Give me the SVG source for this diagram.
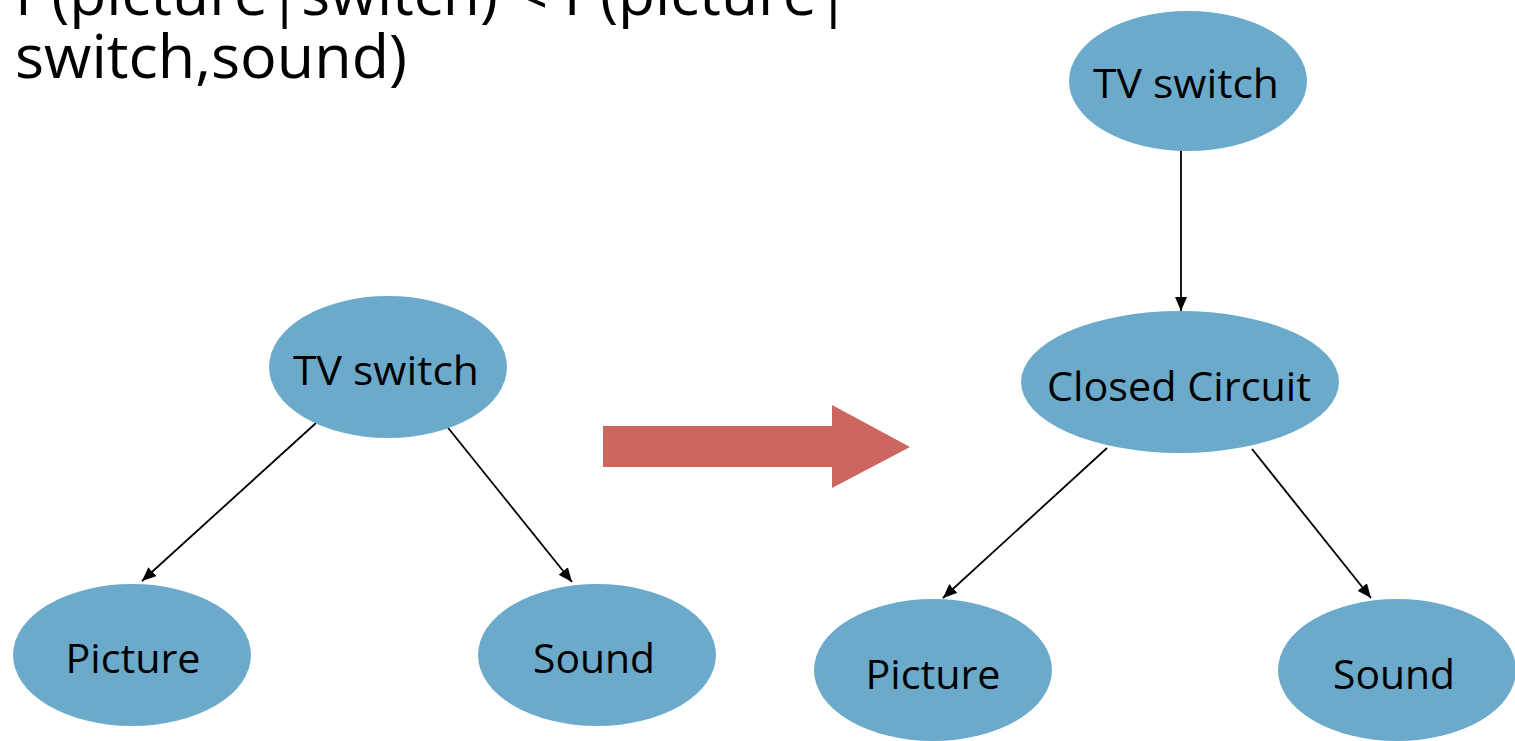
<svg xmlns="http://www.w3.org/2000/svg" width="1515" height="741" viewBox="0 0 1515 741">
  <defs>
    <marker id="arrow" viewBox="0 0 14 12" refX="14" refY="6" markerWidth="14" markerHeight="12" markerUnits="userSpaceOnUse" orient="auto">
      <path d="M0,0 L14,6 L0,12 z" fill="#000"/>
    </marker>
  </defs>
  <style>
    .node ellipse { fill: #6BAACA; }
    .node text { font-family: "Open Sans", "Liberation Sans", sans-serif; font-size: 40px; fill: #000; text-anchor: middle; }
    .edge { stroke: #000; stroke-width: 1.8; fill: none; marker-end: url(#arrow); }
    .title { font-family: "Open Sans", "Liberation Sans", sans-serif; font-size: 60px; fill: #000; }
  </style>
  <rect width="1515" height="741" fill="#fff"/>

  <!-- heading -->
  <text class="title" x="15" y="15" textLength="835" lengthAdjust="spacingAndGlyphs">P(picture|switch) &lt; P(picture|</text>
  <text class="title" x="15" y="78" textLength="392" lengthAdjust="spacingAndGlyphs">switch,sound)</text>

  <!-- connectors -->
  <g id="connectors">
    <line class="edge" x1="316" y1="423" x2="142" y2="581"/>
    <line class="edge" x1="445" y1="424" x2="572" y2="582"/>
    <line class="edge" x1="1181" y1="150" x2="1181" y2="311"/>
    <line class="edge" x1="1107" y1="448" x2="943" y2="598"/>
    <line class="edge" x1="1252" y1="449" x2="1371" y2="598"/>
  </g>

  <!-- block arrow -->
  <path id="transform-arrow" d="M603,426 L832,426 L832,405 L910,447 L832,488 L832,467 L603,467 Z" fill="#CD665F"/>

  <!-- left graph -->
  <g id="l-switch" class="node">
    <ellipse cx="388" cy="367" rx="119" ry="71"/>
    <text x="386" y="385" textLength="186" lengthAdjust="spacingAndGlyphs">TV switch</text>
  </g>
  <g id="l-picture" class="node">
    <ellipse cx="132" cy="655" rx="119" ry="71"/>
    <text x="133" y="673" textLength="135" lengthAdjust="spacingAndGlyphs">Picture</text>
  </g>
  <g id="l-sound" class="node">
    <ellipse cx="597" cy="655" rx="119" ry="71"/>
    <text x="594" y="673" textLength="122" lengthAdjust="spacingAndGlyphs">Sound</text>
  </g>

  <!-- right graph -->
  <g id="r-switch" class="node">
    <ellipse cx="1188" cy="81" rx="119" ry="70"/>
    <text x="1186" y="98" textLength="186" lengthAdjust="spacingAndGlyphs">TV switch</text>
  </g>
  <g id="r-circuit" class="node">
    <ellipse cx="1180" cy="382" rx="159" ry="71"/>
    <text x="1179" y="401" textLength="264" lengthAdjust="spacingAndGlyphs">Closed Circuit</text>
  </g>
  <g id="r-picture" class="node">
    <ellipse cx="933" cy="670" rx="119" ry="71"/>
    <text x="933" y="689" textLength="135" lengthAdjust="spacingAndGlyphs">Picture</text>
  </g>
  <g id="r-sound" class="node">
    <ellipse cx="1397" cy="670" rx="119" ry="71"/>
    <text x="1394" y="689" textLength="122" lengthAdjust="spacingAndGlyphs">Sound</text>
  </g>
</svg>
